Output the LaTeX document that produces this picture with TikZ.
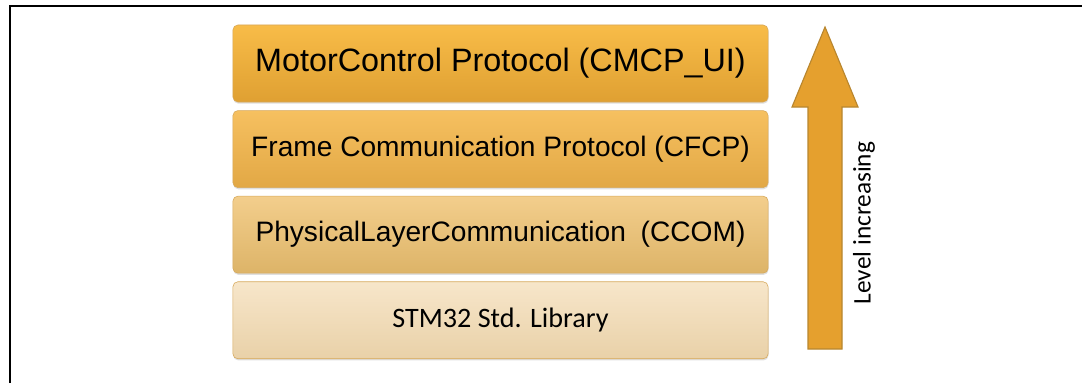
\documentclass[tikz,border=0pt]{standalone}
\usepackage{fontspec}
\setmainfont{Liberation Sans}
\newfontfamily\calib{Carlito}
\usepackage{xcolor}
\usepackage{tikz}
\usetikzlibrary{positioning,shadows}
\definecolor{orangetop}{HTML}{F8BC48}
\definecolor{orangebot}{HTML}{DFA032}
\definecolor{midtop}{HTML}{F6C060}
\definecolor{midbot}{HTML}{E2A845}
\definecolor{sandtop}{HTML}{F3CE8C}
\definecolor{sandbot}{HTML}{DDB468}
\definecolor{paletop}{HTML}{F7E6CA}
\definecolor{palebot}{HTML}{E9D1A8}
\definecolor{arrowfill}{HTML}{E5A02E}
\definecolor{arrowedge}{HTML}{B8862E}
\definecolor{edgex}{HTML}{D6A85A}
\tikzset{
  layer/.style={draw=edgex,thin,rounded corners=3.5pt,minimum width=13.375cm,
    minimum height=1.925cm,inner sep=0pt,align=center,
    drop shadow={shadow xshift=0.3pt,shadow yshift=-1.2pt,opacity=0.25}},
  arrowbody/.style={fill=arrowfill,draw=arrowedge,line width=0.8pt,line join=miter}
}
\begin{document}
\begin{tikzpicture}[x=0.025cm,y=-0.025cm]
\useasboundingbox (0,0) rectangle (1082,383);
% frame
\draw[line width=1.4pt] (10,383) -- (10,6) -- (1082,6);
% protocol layers
\node[layer,top color=orangetop,bottom color=orangebot,font=\fontsize{23}{26}\selectfont]
  (mcp) at (500.5,63.5) {MotorControl Protocol (CMCP\_UI)};
\node[layer,top color=midtop,bottom color=midbot,font=\fontsize{20}{24}\selectfont,
  below=0.2cm of mcp] (fcp) {Frame Communication Protocol (CFCP)};
\node[layer,top color=sandtop,bottom color=sandbot,font=\fontsize{20}{24}\selectfont,
  below=0.2cm of fcp] (com) {PhysicalLayerCommunication\hspace{0.25em} (CCOM)};
\node[layer,top color=paletop,bottom color=palebot,font=\calib\fontsize{20}{24}\selectfont,
  below=0.2cm of com] (lib) {STM32 Std. Library};
% level arrow
\draw[arrowbody] (808,349) -- (808,107) -- (792,107) -- (825,27) -- (858,107)
  -- (842,107) -- (842,349) -- cycle;
\node[rotate=90,font=\calib\fontsize{18}{22}\selectfont,inner sep=0pt]
  (lvl) at (864,223) {Level increasing};
\end{tikzpicture}
\end{document}
